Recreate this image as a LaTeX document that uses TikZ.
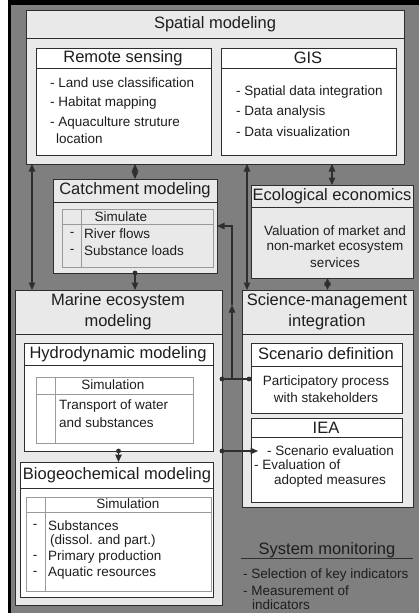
\documentclass[tikz,border=0pt]{standalone}
\usepackage{fontspec}
\setmainfont{Liberation Sans}
\usetikzlibrary{arrows.meta,positioning}
\definecolor{bggray}{HTML}{7F7F7F}
\definecolor{panefill}{HTML}{E9E9E9}
\definecolor{linecol}{HTML}{2E2E2E}
\definecolor{tabline}{HTML}{9A9A9A}
\definecolor{txt}{HTML}{1E1E1E}

\begin{document}
\begin{tikzpicture}[x=1pt,y=-1pt,
    pane/.style={draw=linecol, line width=1pt, fill=panefill, inner sep=0pt, outer sep=0pt, anchor=north west},
    wpane/.style={pane, fill=white},
    tabbox/.style={draw=tabline, line width=0.9pt, inner sep=0pt, outer sep=0pt, anchor=north west},
    head/.style={font=\fontsize{16.5}{21}\selectfont, text=txt, align=center, inner sep=0pt},
    body/.style={font=\fontsize{13.5}{16}\selectfont, text=txt, inner sep=0pt},
    item/.style={body, anchor=west},
    link/.style={draw=linecol, line width=1.1pt},
    dbl/.style={link, {Triangle[length=7.5pt,width=6.5pt]}-{Triangle[length=7.5pt,width=6.5pt]}},
    one/.style={link, -{Triangle[length=7.5pt,width=6.5pt]}},
    dot/.style={fill=linecol}]

    % background and frame strips
    \useasboundingbox (0,0) rectangle (419,613);
    \fill[bggray] (0,0) rectangle (419,613);
    \fill[white] (0,0) rectangle (8,613);
    \fill[black] (8,0) rectangle (11,613);
    \fill[black] (8,0) rectangle (419,5);

    % Spatial modeling
    \node[pane, minimum width=378, minimum height=154] (spatial) at (26,10) {};
    \draw[linecol, line width=1pt] ([yshift=-28pt]spatial.north west) -- ([yshift=-28pt]spatial.north east);
    \node[head] at (215,24) {Spatial modeling};

    \node[wpane, minimum width=175, minimum height=107] (remote) at (36,48) {};
    \draw[linecol, line width=1pt] ([yshift=-20pt]remote.north west) -- ([yshift=-20pt]remote.north east);
    \node[head] at (123,58) {Remote sensing};
    \node[item] at (50,83) {- Land use classification};
    \node[item] at (50,103) {- Habitat mapping};
    \node[item] at (50,123) {- Aquaculture struture};
    \node[item] at (56,139) {location};

    \node[wpane, minimum width=175, minimum height=107] (gis) at (221,48) {};
    \draw[linecol, line width=1pt] ([yshift=-20pt]gis.north west) -- ([yshift=-20pt]gis.north east);
    \node[head] at (308,58) {GIS};
    \node[item] at (236,92) {- Spatial data integration};
    \node[item] at (236,112) {- Data analysis};
    \node[item] at (236,132) {- Data visualization};

    % Catchment modeling
    \node[pane, minimum width=164, minimum height=94] (catch) at (53,179) {};
    \draw[linecol, line width=1pt] ([yshift=-23pt]catch.north west) -- ([yshift=-23pt]catch.north east);
    \node[head] at (135,190) {Catchment modeling};
    \node[tabbox, minimum width=151, minimum height=58] (catchtab) at (62,209) {};
    \draw[tabline, line width=0.9pt] ([yshift=-15pt]catchtab.north west) -- ([yshift=-15pt]catchtab.north east);
    \draw[tabline, line width=0.9pt] ([xshift=19pt]catchtab.north west) -- ([xshift=19pt]catchtab.south west);
    \node[body] at (121,217) {Simulate};
    \node[body] at (72,234) {-};
    \node[item] at (84,234) {River flows};
    \node[body] at (72,251) {-};
    \node[item] at (84,251) {Substance loads};

    % Ecological economics
    \node[pane, minimum width=162, minimum height=93] (eco) at (251,185) {};
    \draw[linecol, line width=1pt] ([yshift=-22pt]eco.north west) -- ([yshift=-22pt]eco.north east);
    \node[head] at (332,196) {Ecological economics};
    \node[body] at (335,231) {Valuation of market and};
    \node[body] at (335,247) {non-market ecosystem};
    \node[body] at (335,263) {services};

    % Marine ecosystem modeling
    \node[pane, minimum width=207, minimum height=315] (marine) at (15,290) {};
    \draw[linecol, line width=1pt] ([yshift=-44pt]marine.north west) -- ([yshift=-44pt]marine.north east);
    \node[head] at (118,312) {Marine ecosystem\\modeling};

    \node[wpane, minimum width=189, minimum height=108] (hydro) at (24,343) {};
    \draw[linecol, line width=1pt] ([yshift=-22pt]hydro.north west) -- ([yshift=-22pt]hydro.north east);
    \node[head] at (118,354) {Hydrodynamic modeling};
    \node[tabbox, minimum width=157, minimum height=66] (hydrotab) at (36,377) {};
    \draw[tabline, line width=0.9pt] ([yshift=-17pt]hydrotab.north west) -- ([yshift=-17pt]hydrotab.north east);
    \draw[tabline, line width=0.9pt] ([xshift=19pt]hydrotab.north west) -- ([xshift=19pt]hydrotab.south west);
    \node[body] at (113,385) {Simulation};
    \node[item] at (59,406) {Transport of water};
    \node[item] at (59,423) {and substances};

    \node[wpane, minimum width=193, minimum height=135] (biogeo) at (20,462) {};
    \draw[linecol, line width=1pt] ([yshift=-26pt]biogeo.north west) -- ([yshift=-26pt]biogeo.north east);
    \node[head] at (117,475) {Biogeochemical modeling};
    \node[tabbox, minimum width=185, minimum height=94] (biotab) at (26,497) {};
    \draw[tabline, line width=0.9pt] ([yshift=-15pt]biotab.north west) -- ([yshift=-15pt]biotab.north east);
    \draw[tabline, line width=0.9pt] ([xshift=19pt]biotab.north west) -- ([xshift=19pt]biotab.south west);
    \node[body] at (128,504) {Simulation};
    \node[body] at (35,526) {-};
    \node[item] at (48,526) {Substances};
    \node[item] at (50,541) {(dissol. and part.)};
    \node[body] at (35,557) {-};
    \node[item] at (48,557) {Primary production};
    \node[body] at (35,573) {-};
    \node[item] at (48,573) {Aquatic resources};

    % Science-management integration
    \node[pane, minimum width=171, minimum height=217] (sci) at (242,290) {};
    \draw[linecol, line width=1pt] ([yshift=-44pt]sci.north west) -- ([yshift=-44pt]sci.north east);
    \node[head] at (327,312) {Science-management\\integration};

    \node[wpane, minimum width=151, minimum height=70] (scen) at (251,343) {};
    \draw[linecol, line width=1pt] ([yshift=-23pt]scen.north west) -- ([yshift=-23pt]scen.north east);
    \node[head] at (326,354) {Scenario definition};
    \node[body] at (326,382) {Participatory process};
    \node[body] at (326,398) {with stakeholders};

    \node[wpane, minimum width=151, minimum height=84] (iea) at (251,418) {};
    \draw[linecol, line width=1pt] ([yshift=-19pt]iea.north west) -- ([yshift=-19pt]iea.north east);
    \node[head] at (326,428) {IEA};
    \node[item] at (267,451) {- Scenario evaluation};
    \node[item] at (254,465) {- Evaluation of};
    \node[item] at (274,481) {adopted measures};

    % System monitoring
    \node[head] (monitor) at (327,550) {System monitoring};
    \draw[linecol, line width=1pt] (241,558) -- (413,558);
    \node[item] at (243,575) {- Selection of key indicators};
    \node[item] at (243,591) {- Measurement of};
    \node[item] at (252,605) {indicators};

    % connectors
    \coordinate (lft) at ([xshift=17pt]marine.north west);
    \coordinate (ctr) at ([xshift=5pt]sci.north west);
    \coordinate (jn) at (232,379);
    \coordinate (mid) at (232,305);
    \coordinate (bend) at (232,226);
    \coordinate (ieain) at (258,451);
    \coordinate (scin) at ([xshift=-2pt]scen.west |- jn);

    \draw[dbl] (spatial.south -| lft) -- (lft);
    \draw[dbl] (spatial.south -| catch.north) -- (catch.north);
    \draw[one] (catch.south) -- (catch.south |- marine.north);
    \fill[dot] (catch.south) circle (2.4pt);
    \draw[dbl] (spatial.south -| ctr) -- (ctr);
    \draw[dbl] (spatial.south -| eco.north) -- (eco.north);
    \draw[dbl] (eco.south -| sci.north) -- (sci.north);

    \draw[one] (jn) -- (mid);
    \draw[one] (mid) -- (bend) -- (catch.east |- bend);
    \draw[link] (marine.east |- jn) -- (scin);
    \fill[dot] (marine.east |- jn) circle (2.4pt);
    \fill[dot] (scin) circle (2.4pt);

    \draw[one] (marine.east |- ieain) -- (ieain);
    \fill[dot] (marine.east |- ieain) circle (2.4pt);

    \draw[one] (hydro.south) -- (hydro.south |- biogeo.north);
    \fill[dot] (hydro.south) circle (2.4pt);
\end{tikzpicture}
\end{document}
